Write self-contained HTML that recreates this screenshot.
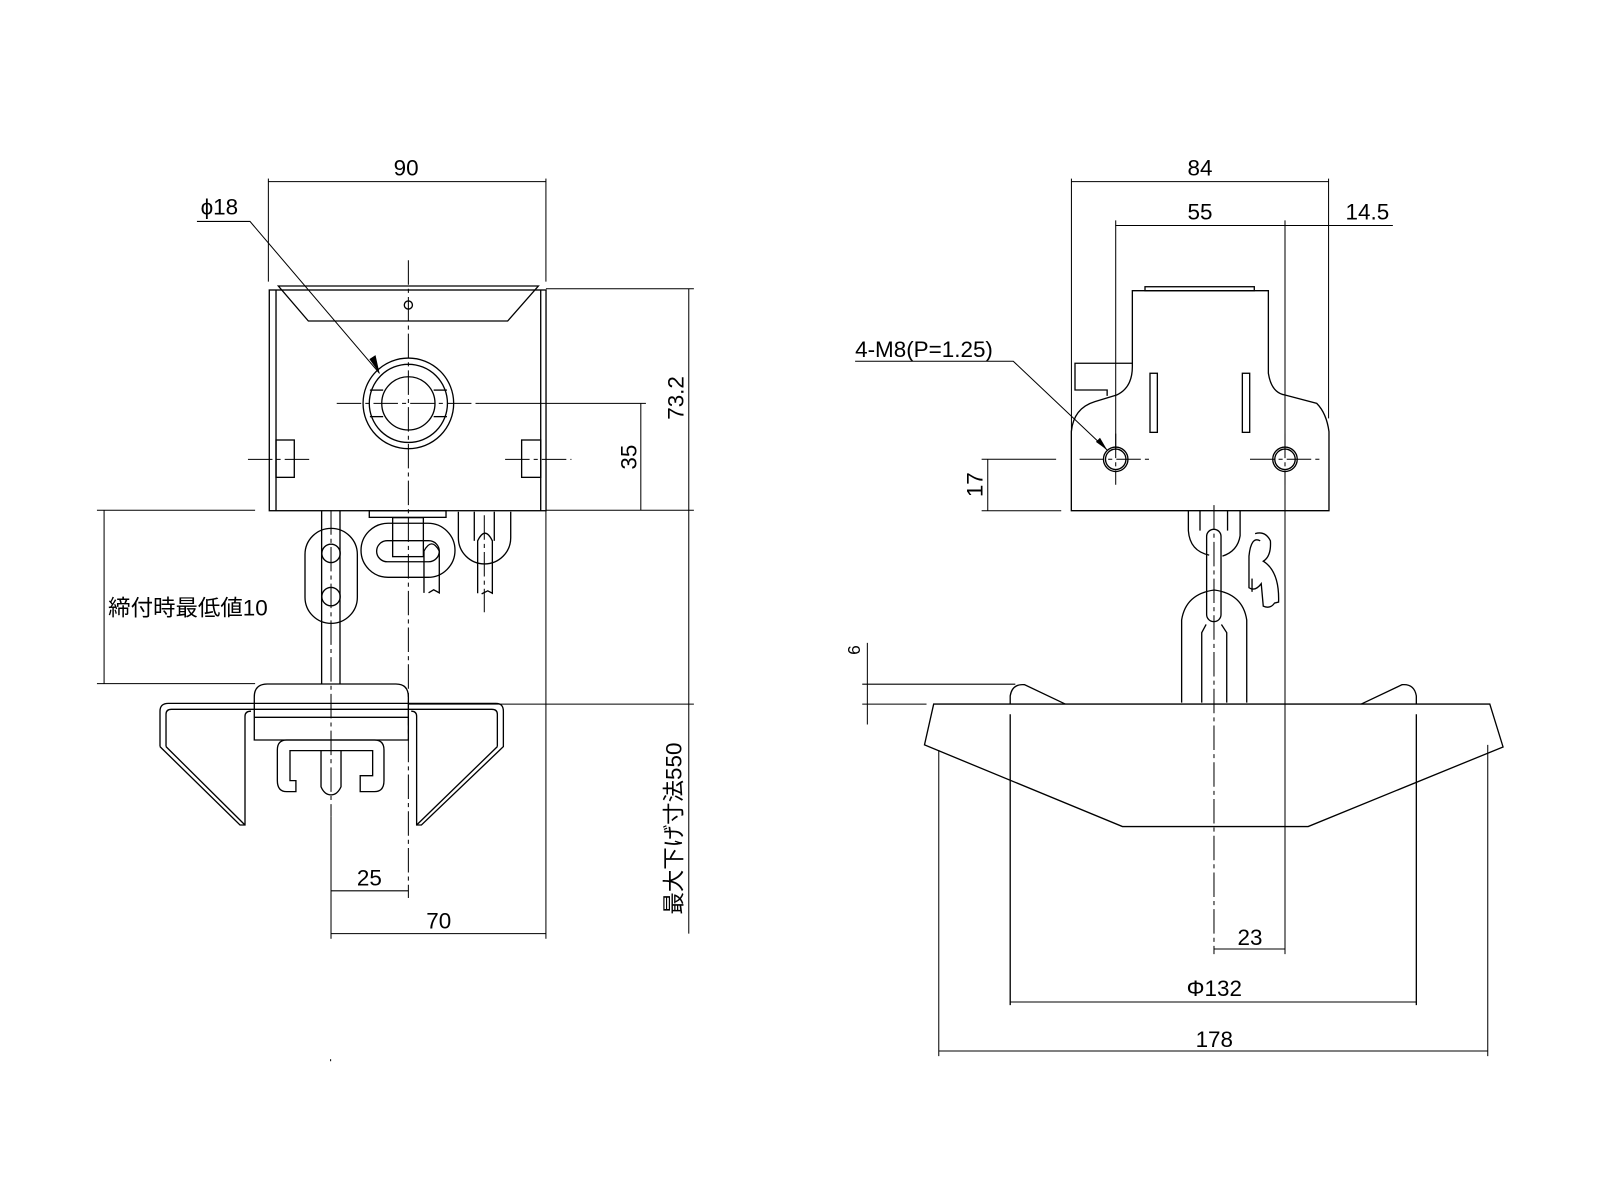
<!DOCTYPE html>
<html><head><meta charset="utf-8"><style>
html,body{margin:0;padding:0;background:#fff;}
svg{display:block;}
text{font-family:"Liberation Sans","Noto Sans CJK JP",sans-serif;fill:#000;}
</style></head><body>
<svg width="1600" height="1200" viewBox="0 0 1568 1176" xmlns="http://www.w3.org/2000/svg">
<g fill="none" stroke="#000" stroke-width="1.3">
<rect x="263.9" y="284.2" width="271.2" height="216.3"/>
<line x1="270.5" y1="284.2" x2="270.5" y2="500.5"/>
<line x1="529.9" y1="284.2" x2="529.9" y2="500.5"/>
<polygon points="272.8,280.3 527.6,280.3 497.5,314.6 302.2,314.6"/>
<circle cx="400.2" cy="298.9" r="4"/>
<circle cx="400.2" cy="395.3" r="44.4"/>
<circle cx="400.2" cy="395.3" r="38.3"/>
<circle cx="400.2" cy="395.3" r="26.1"/>
<line x1="362.5" y1="382.3" x2="375.5" y2="382.3"/>
<line x1="362.5" y1="408.3" x2="375.5" y2="408.3"/>
<line x1="425" y1="382.3" x2="438" y2="382.3"/>
<line x1="425" y1="408.3" x2="438" y2="408.3"/>
<rect x="270.5" y="431.2" width="17.9" height="36.6"/>
<rect x="511.2" y="431.2" width="18.7" height="36.6"/>
<rect x="361.9" y="500.5" width="75.2" height="6.5"/>
<line x1="315.2" y1="500.5" x2="315.2" y2="670.3"/>
<line x1="333.2" y1="500.5" x2="333.2" y2="670.3"/>
<rect x="298.9" y="517.8" width="51.3" height="93.1" rx="25.6"/>
<circle cx="324.4" cy="542.3" r="9"/>
<circle cx="324.4" cy="584.7" r="9"/>
<rect x="353.8" y="512.8" width="92.1" height="53" rx="26.5"/>
<rect x="369.1" y="529.9" width="61.4" height="20.6" rx="10.3"/>
<rect x="384.8" y="507.3" width="30.1" height="38.2"/>
<path d="M415.5,581 L415.5,540 Q423,526 430.5,540 L430.5,581 L425,578 L420,581"/>
<path d="M449.2,501.5 L449.2,527 A25.6,25.6 0 0 0 500.5,527 L500.5,501.5"/>
<line x1="464.8" y1="501.5" x2="464.8" y2="530"/>
<line x1="484.4" y1="501.5" x2="484.4" y2="530"/>
<path d="M468.1,581.4 L468.1,530 Q475.3,515 482.5,530 L482.5,581.4 L478,579 L472,582"/>
<path d="M249.2,725.2 L249.2,683 Q249.2,670.3 262,670.3 L388,670.3 Q400.2,670.3 400.2,683 L400.2,725.2 Z"/>
<line x1="249.2" y1="703" x2="400.2" y2="703"/>
<path d="M156.8,731.7 L156.8,697 Q156.8,689.3 165,689.3 L486,689.3 Q493.3,689.3 493.3,697 L493.3,731.7 L413,808.5 L408.3,808.5 L408.3,702 Q408.3,697 403,697"/>
<path d="M162.7,731.7 L162.7,700 Q162.7,695.1 168,695.1 L482,695.1 Q487.4,695.1 487.4,700 L487.4,731.7"/>
<path d="M156.8,731.7 L235.2,808.5 L240.1,808.5 L240.1,702 Q240.1,697 246,697"/>
<line x1="162.7" y1="731.7" x2="240.1" y2="808.5"/>
<line x1="408.3" y1="808.5" x2="487.4" y2="731.7"/>
<path d="M290,775.8 L281,775.8 Q271.8,775.8 271.8,765 L271.8,735 Q271.8,725.2 281,725.2 L367,725.2 Q376.3,725.2 376.3,735 L376.3,765 Q376.3,775.8 367,775.8 L353,775.8 L353,760.2 L365.2,760.2 L365.2,735.6 L284.2,735.6 L284.2,765 L290,765 Z"/>
<path d="M314.6,735.6 L314.6,771 Q318,779 324.4,779 Q330.5,779 334.2,771 L334.2,735.6"/>
<path d="M1049.9,500.5 L1049.9,423 Q1052,400 1073,393.6 L1094.3,387.1 Q1109.7,380 1109.7,359.3 L1109.7,284.9 L1243,284.9 L1243,365.8 Q1246,385 1259.3,387.1 L1290.4,395.3 Q1300,405 1302.4,423 L1302.4,500.5 Z"/>
<rect x="1122.1" y="281" width="107.1" height="3.9"/>
<path d="M1109.7,356 L1053.5,356 L1053.5,382.2 L1085,382.2 L1085,388"/>
<rect x="1127" y="365.8" width="7.2" height="57.9"/>
<rect x="1217.5" y="365.8" width="7.2" height="57.9"/>
<circle cx="1093.4" cy="450.1" r="12"/><circle cx="1093.4" cy="450.1" r="10"/>
<circle cx="1259.3" cy="450.1" r="12"/><circle cx="1259.3" cy="450.1" r="10"/>
<path d="M1164.6,500.8 L1164.6,520 Q1166,540 1185,544"/>
<path d="M1215.3,500.8 L1215.3,525 Q1213,540 1198,545"/>
<line x1="1176" y1="500.8" x2="1176" y2="520"/>
<line x1="1203" y1="500.8" x2="1203" y2="520"/>
<rect x="1182.5" y="518.7" width="14.1" height="90.5" rx="7"/>
<path d="M1158,688.6 L1158,607.6 Q1162,582 1190,578.2 Q1218,582 1221.8,607.6 L1221.8,688.6"/>
<path d="M1177.7,688.6 L1177.7,620 L1182,612"/>
<path d="M1202.2,688.6 L1202.2,620 L1197,612"/>
<path d="M1230,523 Q1240,520 1245,530 Q1246,545 1238,550 Q1254,560 1253,590 L1249,591 Q1245,597 1238,594 L1236,572 Q1230,580 1224,576 L1224,545 Q1226,525 1235,530"/>
<path d="M1227,567 L1227,580"/>
<path d="M915,690 L1460,690 L1473,732 L1282,810 L1100,810 L906,730 Z"/>
<line x1="990" y1="700" x2="990" y2="985"/>
<line x1="1388" y1="700" x2="1388" y2="985"/>
<path d="M990,690 L990,682 Q992,670 1004,671 L1044,690"/>
<path d="M1388,690 L1388,682 Q1386,670 1374,671 L1334,690"/>
</g>

<g fill="none" stroke="#000" stroke-width="1" stroke-dasharray="24,4,4,4">
<line x1="400.2" y1="255" x2="400.2" y2="880"/>
<line x1="324.4" y1="500" x2="324.4" y2="800"/>
<line x1="474.6" y1="505" x2="474.6" y2="600"/>
<line x1="330" y1="395.3" x2="470" y2="395.3"/>
<line x1="243" y1="450.2" x2="305" y2="450.2"/>
<line x1="495" y1="450.2" x2="560" y2="450.2"/>
<line x1="1189.7" y1="495" x2="1189.7" y2="935"/>
<line x1="1058" y1="450.1" x2="1128" y2="450.1"/>
<line x1="1225" y1="450.1" x2="1295" y2="450.1"/>
<line x1="1093.4" y1="425" x2="1093.4" y2="475"/>
<line x1="1259.3" y1="425" x2="1259.3" y2="475"/>
</g>

<g fill="none" stroke="#000" stroke-width="1">
<line x1="263" y1="178" x2="535" y2="178"/>
<line x1="263" y1="175" x2="263" y2="276"/>
<line x1="535" y1="175" x2="535" y2="276"/>
<polyline points="193,217 245,217 372,366"/>
<line x1="535" y1="283" x2="680" y2="283"/>
<line x1="675" y1="283" x2="675" y2="500"/>
<line x1="470" y1="395.3" x2="633" y2="395.3"/>
<line x1="628" y1="395" x2="628" y2="500"/>
<line x1="535" y1="500" x2="680" y2="500"/>
<line x1="95" y1="500" x2="250" y2="500"/>
<line x1="102" y1="500" x2="102" y2="670"/>
<line x1="95" y1="670" x2="250" y2="670"/>
<line x1="400" y1="690" x2="680" y2="690"/>
<line x1="675" y1="500" x2="675" y2="690"/>
<line x1="675" y1="690" x2="675" y2="915"/>
<line x1="535" y1="500" x2="535" y2="920"/>
<line x1="324.4" y1="800" x2="324.4" y2="920"/>
<line x1="324.4" y1="873" x2="400.2" y2="873"/>
<line x1="324.4" y1="915" x2="535" y2="915"/>
<line x1="324" y1="1038" x2="324" y2="1040"/>
<line x1="1050" y1="178" x2="1302" y2="178"/>
<line x1="1050" y1="175" x2="1050" y2="423"/>
<line x1="1302" y1="175" x2="1302" y2="410"/>
<line x1="1093" y1="221" x2="1365" y2="221"/>
<line x1="1093.4" y1="216" x2="1093.4" y2="440"/>
<line x1="1259.3" y1="216" x2="1259.3" y2="440"/>
<line x1="1259.3" y1="462" x2="1259.3" y2="935"/>
<polyline points="838,354 993,354 1085,441"/>
<line x1="962" y1="450.1" x2="1035" y2="450.1"/>
<line x1="962" y1="500.5" x2="1040" y2="500.5"/>
<line x1="968" y1="450" x2="968" y2="500.5"/>
<line x1="845" y1="670.5" x2="995" y2="670.5"/>
<line x1="845" y1="690" x2="908" y2="690"/>
<line x1="850" y1="630" x2="850" y2="710"/>
<line x1="1189.7" y1="930" x2="1259.3" y2="930"/>
<line x1="990" y1="982" x2="1388" y2="982"/>
<line x1="920" y1="735" x2="920" y2="1035"/>
<line x1="1458" y1="730" x2="1458" y2="1035"/>
<line x1="920" y1="1030" x2="1458" y2="1030"/>
</g>
<polygon points="372,366 362,352 368,348" fill="#000"/>
<polygon points="1085,441 1074,433 1078,429" fill="#000"/>

<g font-size="22">
<text x="398" y="172" text-anchor="middle">90</text>
<text x="215" y="210" text-anchor="middle">ϕ18</text>
<text x="106" y="603">締付時最低値10</text>
<text x="362" y="868" text-anchor="middle">25</text>
<text x="430" y="910" text-anchor="middle">70</text>
<text transform="translate(670,390) rotate(-90)" text-anchor="middle">73.2</text>
<text transform="translate(624,448) rotate(-90)" text-anchor="middle">35</text>
<text transform="translate(668,812) rotate(-90)" text-anchor="middle">最大下げ寸法550</text>
<text x="1176" y="172" text-anchor="middle">84</text>
<text x="1176" y="215" text-anchor="middle">55</text>
<text x="1340" y="215" text-anchor="middle">14.5</text>
<text x="838" y="350">4-M8(P=1.25)</text>
<text transform="translate(963,475) rotate(-90)" text-anchor="middle">17</text>
<text x="1225" y="926" text-anchor="middle">23</text>
<text x="1190" y="976" text-anchor="middle">Φ132</text>
<text x="1190" y="1026" text-anchor="middle">178</text>
</g>
<text transform="translate(843,637) rotate(-90)" text-anchor="middle" font-size="17">6</text>
</svg>
</body></html>
